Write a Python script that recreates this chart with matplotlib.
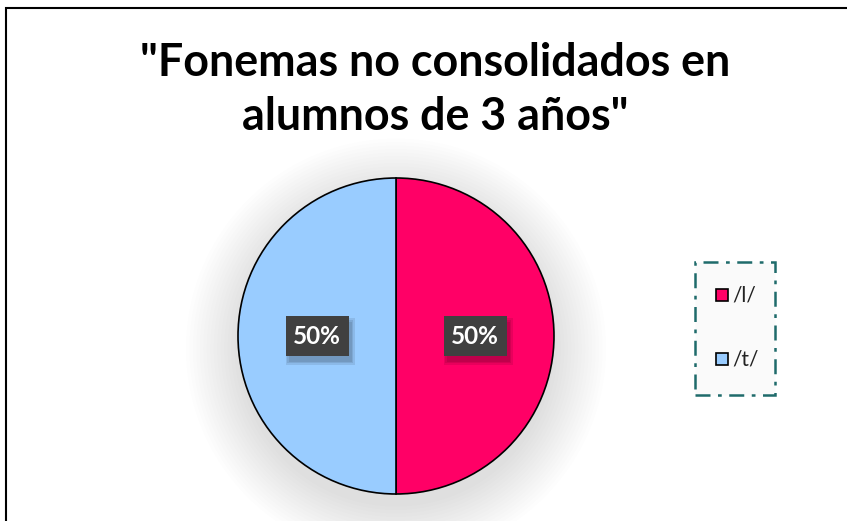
import matplotlib

matplotlib.use("Agg")

import matplotlib.pyplot as plt
from matplotlib.patches import Circle, Rectangle

labels = ["/l/", "/t/"]
values = [50, 50]
colors = ["#FF0066", "#99CCFF"]
pct_labels = ["50%", "50%"]
title = '"Fonemas no consolidados en\nalumnos de 3 años"'

plt.rcParams["font.family"] = ["Lato", "DejaVu Sans"]

fig = plt.figure(figsize=(8.47, 5.21), dpi=100)

# outer chart frame
fig.add_artist(Rectangle((6 / 847, -0.1), 1.0, 1 - 8 / 521 + 0.1,
                         transform=fig.transFigure, fill=False,
                         edgecolor="black", linewidth=1.5))

fig.text(435 / 847, 1 - 90 / 521, title, ha="center", va="center",
         fontsize=32.3, fontweight="bold", linespacing=1.38)

# pie axes: center (396, 336), radius 158 px
cx, cy, r = 396 / 847, 1 - 336 / 521, 158
ax = fig.add_axes([cx - r / 847, cy - r / 521, 2 * r / 847, 2 * r / 521])

# soft shadow
for i in range(16):
    ax.add_patch(Circle((0, -0.08), 1.0 + 0.022 * i, color="black",
                        alpha=0.008, linewidth=0, zorder=0, clip_on=False))

wedges, _ = ax.pie(values, colors=colors, startangle=90, counterclock=False,
                   radius=1.0,
                   wedgeprops=dict(edgecolor="black", linewidth=1.2))
for w in wedges:
    w.set_zorder(2)
    w.set_clip_on(False)

ax.set_xlim(-1, 1)
ax.set_ylim(-1, 1)
ax.set_aspect("equal")
ax.axis("off")

bw, bh = 63 / r, 40 / r
for (px, py), txt in zip([(0.5, 0.0), (-0.5, 0.0)], pct_labels):
    for k in range(3):
        ax.add_patch(Rectangle((px - bw / 2 + 0.02 - 0.01 * k,
                                py - bh / 2 - 0.035 - 0.01 * k),
                               bw + 0.02 * k, bh + 0.02 * k,
                               facecolor="black", alpha=0.09, linewidth=0,
                               zorder=3))
    ax.add_patch(Rectangle((px - bw / 2, py - bh / 2), bw, bh,
                           facecolor="#404040", linewidth=0, zorder=4))
    ax.text(px, py, txt, ha="center", va="center",
            fontsize=17.5, fontweight="bold", color="white", zorder=5)

# legend box
lx0, ly0, lx1, ly1 = 695, 262, 775, 395
fig.add_artist(Rectangle((lx0 / 847, 1 - ly1 / 521),
                         (lx1 - lx0) / 847, (ly1 - ly0) / 521,
                         transform=fig.transFigure, facecolor="#FAFAFA",
                         edgecolor="#1F6B6B", linewidth=1.8,
                         linestyle=(0, (6, 3, 1.5, 3))))

for lab, col, y in zip(labels, colors, [295, 359]):
    fig.add_artist(Rectangle((716 / 847, 1 - (y + 6) / 521), 12 / 847, 12 / 521,
                             transform=fig.transFigure, facecolor=col,
                             edgecolor="black", linewidth=1.2))
    fig.text(732 / 847, 1 - y / 521, lab, ha="left", va="center",
             fontsize=15, color="#222222")

fig.savefig("out.png", dpi=100)
plt.close(fig)
